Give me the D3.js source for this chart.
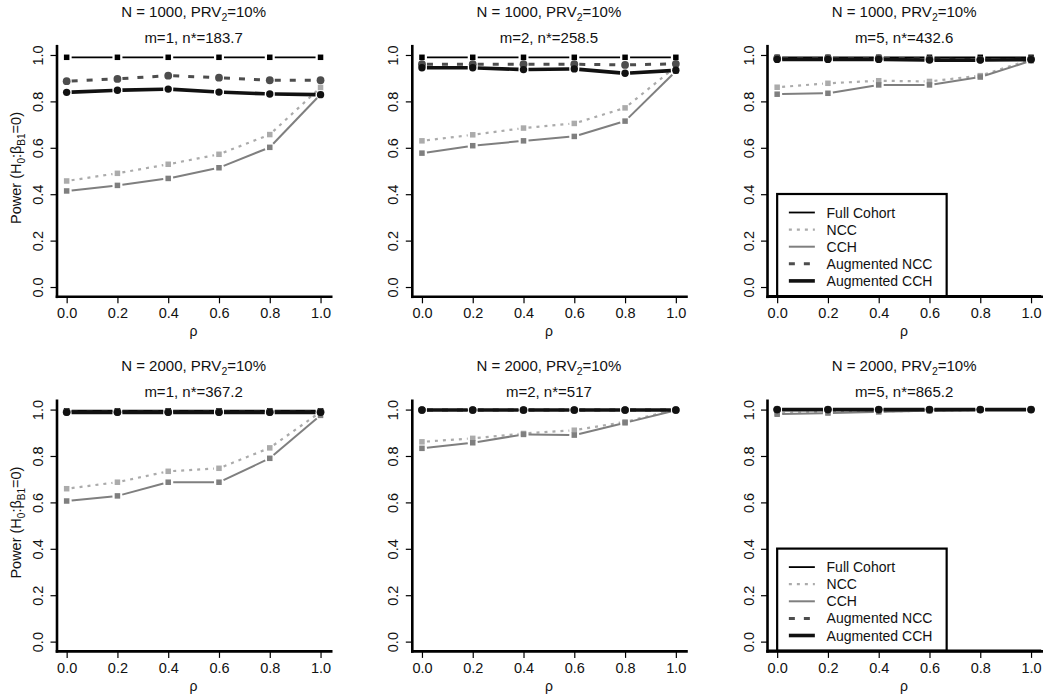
<!DOCTYPE html>
<html>
<head>
<meta charset="utf-8">
<script src="https://cdn.jsdelivr.net/npm/d3@7"></script>
<style>
  html, body { margin: 0; padding: 0; background: #fff; }
  svg { display: block; font-family: "Liberation Sans", Arial, sans-serif; }
</style>
</head>
<body>
<svg id="chart" width="1050" height="700"></svg>
<script>
// ---------- data ----------
const rho = [0, 0.2, 0.4, 0.6, 0.8, 1.0];
const xTicks = [0, 0.2, 0.4, 0.6, 0.8, 1.0];
const yTicks = [0, 0.2, 0.4, 0.6, 0.8, 1.0];
const seriesNames = ["Full Cohort", "NCC", "CCH", "Augmented NCC", "Augmented CCH"];

// panels in reading order
const panelN     = ["1000", "1000", "1000", "2000", "2000", "2000"];
const panelM     = ["1", "2", "5", "1", "2", "5"];
const panelNStar = ["183.7", "258.5", "432.6", "367.2", "517", "865.2"];
const panelLegend = [false, false, true, false, false, true];

// power values per panel (rows) at each rho
const fullCohort = [
  [0.99, 0.99, 0.99, 0.99, 0.99, 0.99],
  [0.99, 0.99, 0.99, 0.99, 0.99, 0.99],
  [0.99, 0.99, 0.99, 0.99, 0.99, 0.99],
  [0.995, 0.995, 0.995, 0.995, 0.995, 0.995],
  [0.998, 0.998, 0.998, 0.998, 0.998, 0.998],
  [1.0, 1.0, 1.0, 1.0, 1.0, 1.0]
];
const ncc = [
  [0.457, 0.490, 0.529, 0.572, 0.657, 0.86],
  [0.630, 0.656, 0.685, 0.705, 0.772, 0.95],
  [0.861, 0.878, 0.889, 0.886, 0.911, 0.98],
  [0.659, 0.687, 0.734, 0.747, 0.835, 0.99],
  [0.861, 0.876, 0.897, 0.911, 0.947, 1.0],
  [0.985, 0.99, 0.992, 0.995, 0.998, 1.0]
];
const cch = [
  [0.414, 0.438, 0.468, 0.514, 0.602, 0.83],
  [0.577, 0.609, 0.630, 0.649, 0.715, 0.93],
  [0.831, 0.835, 0.871, 0.871, 0.905, 0.975],
  [0.606, 0.628, 0.687, 0.687, 0.790, 0.975],
  [0.833, 0.857, 0.893, 0.890, 0.943, 0.997],
  [0.98, 0.985, 0.99, 0.995, 0.998, 1.0]
];
const augNcc = [
  [0.887, 0.897, 0.911, 0.902, 0.891, 0.891],
  [0.96, 0.96, 0.96, 0.96, 0.957, 0.962],
  [0.985, 0.985, 0.985, 0.982, 0.98, 0.982],
  [0.99, 0.99, 0.99, 0.99, 0.99, 0.99],
  [0.998, 0.998, 0.998, 0.998, 0.998, 0.998],
  [1.0, 1.0, 1.0, 1.0, 1.0, 1.0]
];
const augCch = [
  [0.839, 0.848, 0.853, 0.840, 0.832, 0.829],
  [0.945, 0.945, 0.937, 0.940, 0.921, 0.934],
  [0.981, 0.981, 0.981, 0.978, 0.978, 0.98],
  [0.988, 0.988, 0.988, 0.988, 0.988, 0.988],
  [0.998, 0.998, 0.998, 0.998, 0.998, 0.998],
  [1.0, 1.0, 1.0, 1.0, 1.0, 1.0]
];

// ---------- styles ----------
const seriesData = [fullCohort, ncc, cch, augNcc, augCch];
const styles = [
  { color: "#000000", width: 1.8, dash: null,   marker: "square", size: 5.5 },
  { color: "#ababab", width: 2.2, dash: "3,5",  marker: "square", size: 5.5 },
  { color: "#7f7f7f", width: 2.0, dash: null,   marker: "square", size: 5.5 },
  { color: "#4d4d4d", width: 3.0, dash: "6,9",  marker: "circle", size: 3.9 },
  { color: "#111111", width: 3.6, dash: null,   marker: "circle", size: 3.7 }
];

const svg = d3.select("#chart");
const colLeft = [56.5, 411.8, 767.0];
const rowTop = [45.7, 400.3];
const pw = 274.2, ph = 250.6;
const font = '"Liberation Sans", Arial, sans-serif';
const gap = 5;

function drawPanel(p) {
  const r = Math.floor(p / 3), c = p % 3;
  const left = colLeft[c], top = rowTop[r];
  const x = d3.scaleLinear().domain([-0.04, 1.04]).range([left, left + pw]);
  const y = d3.scaleLinear().domain([-0.04, 1.04]).range([top + ph, top]);
  const g = svg.append("g");

  // titles
  const t1 = g.append("text").attr("x", left + pw / 2).attr("y", top - 29)
    .attr("text-anchor", "middle").attr("font-size", 15).attr("fill", "#111");
  t1.append("tspan").text("N = " + panelN[p] + ", PRV");
  t1.append("tspan").attr("font-size", 10.5).attr("dy", 4).text("2");
  t1.append("tspan").attr("dy", -4).text("=10%");
  g.append("text").attr("x", left + pw / 2).attr("y", top - 3)
    .attr("text-anchor", "middle").attr("font-size", 15).attr("fill", "#111")
    .text("m=" + panelM[p] + ", n*=" + panelNStar[p]);

  // axes
  const xa = g.append("g").attr("transform", `translate(0,${top + ph})`)
    .call(d3.axisBottom(x).tickValues(xTicks).tickFormat(d3.format(".1f")).tickSize(7).tickSizeOuter(0));
  const ya = g.append("g").attr("transform", `translate(${left},0)`)
    .call(d3.axisLeft(y).tickValues(yTicks).tickFormat(d3.format(".1f")).tickSize(6).tickSizeOuter(0));
  [xa, ya].forEach(a => {
    a.select(".domain").attr("stroke", "#000").attr("stroke-width", 2.6).attr("stroke-linecap", "square");
    a.selectAll(".tick line").attr("stroke", "#000").attr("stroke-width", 1.2);
    a.selectAll(".tick text").attr("font-size", 14.5).attr("font-family", font).attr("fill", "#111");
  });
  xa.selectAll(".tick text").attr("y", 22).attr("dy", null);
  ya.selectAll(".tick text")
    .attr("transform", "rotate(-90)")
    .attr("x", 0).attr("y", -13.5).attr("dy", null)
    .attr("text-anchor", "middle");

  // axis labels
  g.append("text").attr("x", left + pw / 2).attr("y", top + ph + 40)
    .attr("text-anchor", "middle").attr("font-size", 14).attr("fill", "#111").text("\u03C1");
  if (c === 0) {
    const yl = g.append("text")
      .attr("transform", `translate(21,${top + ph / 2 - 3}) rotate(-90)`)
      .attr("text-anchor", "middle").attr("font-size", 14.5).attr("fill", "#111");
    yl.append("tspan").text("Power (H");
    yl.append("tspan").attr("font-size", 10).attr("dy", 4).text("0");
    yl.append("tspan").attr("dy", -4).text(":\u03B2");
    yl.append("tspan").attr("font-size", 10).attr("dy", 4).text("B1");
    yl.append("tspan").attr("dy", -4).text("=0)");
  }

  // series
  seriesData.forEach((arr, si) => {
    const st = styles[si];
    const pts = rho.map((rv, i) => [x(rv), y(arr[p][i])]);
    const sg = g.append("g");
    for (let i = 0; i < pts.length - 1; i++) {
      const [x1, y1] = pts[i], [x2, y2] = pts[i + 1];
      const dx = x2 - x1, dy = y2 - y1, L = Math.hypot(dx, dy);
      if (L <= 2 * gap) continue;
      const ux = dx / L, uy = dy / L;
      sg.append("line")
        .attr("x1", x1 + ux * gap).attr("y1", y1 + uy * gap)
        .attr("x2", x2 - ux * gap).attr("y2", y2 - uy * gap)
        .attr("stroke", st.color).attr("stroke-width", st.width)
        .attr("stroke-dasharray", st.dash);
    }
    if (st.marker === "square") {
      sg.selectAll("rect").data(pts).join("rect")
        .attr("x", d => d[0] - st.size / 2).attr("y", d => d[1] - st.size / 2)
        .attr("width", st.size).attr("height", st.size).attr("fill", st.color);
    } else {
      sg.selectAll("circle").data(pts).join("circle")
        .attr("cx", d => d[0]).attr("cy", d => d[1]).attr("r", st.size).attr("fill", st.color);
    }
  });

  // legend
  if (panelLegend[p]) {
    const lx = x(0), ly = top + 148.3, lw = 169.5, lh = top + ph - ly;
    const lg = g.append("g");
    lg.append("rect").attr("x", lx).attr("y", ly).attr("width", lw).attr("height", lh)
      .attr("fill", "#fff").attr("stroke", "#000").attr("stroke-width", 2.2);
    seriesNames.forEach((name, i) => {
      const st = styles[i];
      const yy = ly + 18.5 + i * 17.1;
      lg.append("line").attr("x1", lx + 11.7).attr("x2", lx + 37.7).attr("y1", yy).attr("y2", yy)
        .attr("stroke", st.color).attr("stroke-width", st.width).attr("stroke-dasharray", st.dash);
      lg.append("text").attr("x", lx + 49.4).attr("y", yy).attr("dy", "0.36em")
        .attr("font-size", 14).attr("fill", "#111").text(name);
    });
    // redraw x axis line over legend bottom edge
    g.append("line").attr("x1", left).attr("x2", left + pw).attr("y1", top + ph).attr("y2", top + ph)
      .attr("stroke", "#000").attr("stroke-width", 2.6);
  }
}

for (let p = 0; p < 6; p++) drawPanel(p);
</script>
</body>
</html>
